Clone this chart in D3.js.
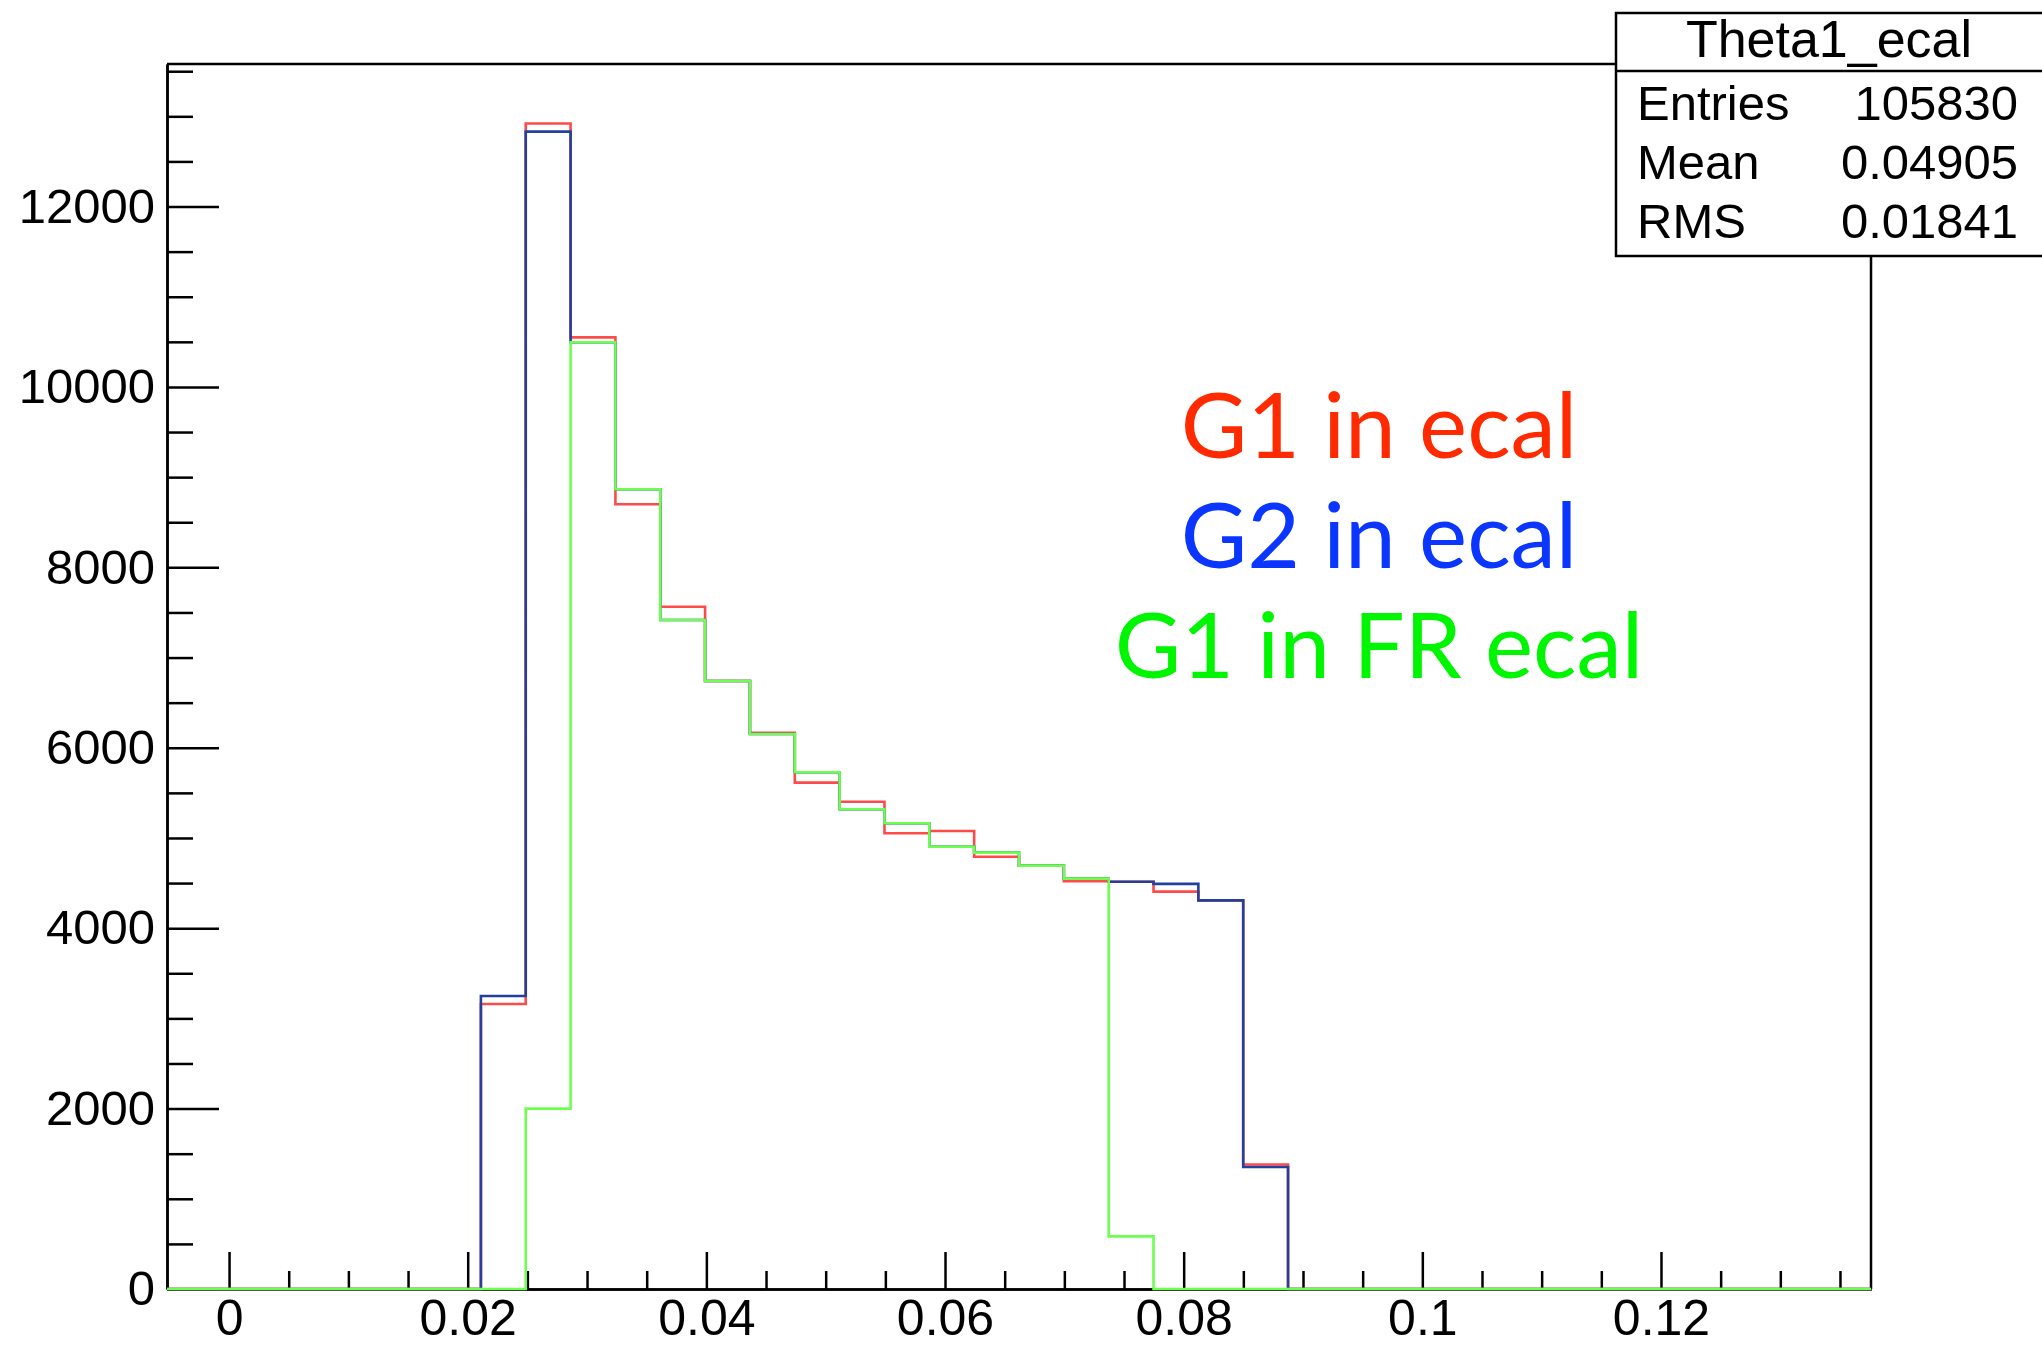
<!DOCTYPE html>
<html>
<head>
<meta charset="utf-8">
<script src="https://cdn.jsdelivr.net/npm/d3@7"></script>
<style>
  html, body { margin: 0; padding: 0; background: #fff; }
  svg { display: block; }
</style>
</head>
<body>
<script>
// histogram binning (x axis)
const xMin = -0.0052
const xMax = 0.1376
const nBins = 38

// bin contents, first non-empty bin index for each
const g1Start = 7
const g1Ecal = [3160, 12920, 10550, 8700, 7564, 6740, 6167, 5613, 5402, 5052, 5077, 4792, 4693, 4520, 4514, 4405, 4308, 1380]
const g2Start = 7
const g2Ecal = [3248, 12830, 10495, 8865, 7417, 6740, 6153, 5728, 5318, 5163, 4903, 4837, 4693, 4549, 4514, 4491, 4308, 1353]
const g1FrStart = 8
const g1FrEcal = [2000, 10495, 8865, 7417, 6740, 6153, 5728, 5318, 5163, 4903, 4837, 4693, 4549, 583]

const xMajor = [0, 0.02, 0.04, 0.06, 0.08, 0.1, 0.12]
const xMinor = [0.005, 0.01, 0.015, 0.025, 0.03, 0.035, 0.045, 0.05, 0.055, 0.065, 0.07, 0.075, 0.085, 0.09, 0.095, 0.105, 0.11, 0.115, 0.125, 0.13, 0.135]
const yMajor = [0, 2000, 4000, 6000, 8000, 10000, 12000]
const yMinor = [500, 1000, 1500, 2500, 3000, 3500, 4500, 5000, 5500, 6500, 7000, 7500, 8500, 9000, 9500, 10500, 11000, 11500, 12500, 13000, 13500]
const yMax = 13580

const statsTitle = 'Theta1_ecal'
const statsRows = [['Entries', '105830'], ['Mean', '0.04905'], ['RMS', '0.01841']]

const legend = [
  { label: 'G1 in ecal', color: '#ff2a00' },
  { label: 'G2 in ecal', color: '#0a36ff' },
  { label: 'G1 in FR ecal', color: '#00f500' }
]

let width = 2042
let height = 1347
let margin = { top: 64, right: 171, bottom: 58, left: 167 }
const axisFont = '"Liberation Sans", Arial, Helvetica, sans-serif'

const svg = d3.select('body')
  .append('svg')
  .attr('width', width)
  .attr('height', height)

const x = d3.scaleLinear()
  .domain([xMin, xMax])
  .range([margin.left, width - margin.right])

const y = d3.scaleLinear()
  .domain([0, yMax])
  .range([height - margin.bottom, margin.top])

const binW = (xMax - xMin) / nBins

// full contents array over all bins
function fullBins(start, vals) {
  const out = new Array(nBins).fill(0)
  vals.forEach((v, i) => { out[start + i] = v })
  return out
}

function stepPoints(bins) {
  const pts = []
  bins.forEach((v, i) => {
    pts.push([xMin + i * binW, v])
    pts.push([xMin + (i + 1) * binW, v])
  })
  return pts
}

const line = d3.line()
  .x(d => x(d[0]))
  .y(d => y(d[1]))

// x axis
svg.append('g')
  .attr('transform', `translate(0,${y(0)})`)
  .call(d3.axisBottom(x).tickValues(xMinor).tickSize(-18).tickSizeOuter(0).tickFormat(''))
const xAxisMajor = svg.append('g')
  .attr('transform', `translate(0,${y(0)})`)
  .call(d3.axisBottom(x).tickValues(xMajor).tickSize(-37).tickSizeOuter(0).tickPadding(10).tickFormat(d3.format('~g')))

// y axis
svg.append('g')
  .attr('transform', `translate(${x(xMin)},0)`)
  .call(d3.axisLeft(y).tickValues(yMinor).tickSize(-26).tickSizeOuter(0).tickFormat(''))
const yAxisMajor = svg.append('g')
  .attr('transform', `translate(${x(xMin)},0)`)
  .call(d3.axisLeft(y).tickValues(yMajor).tickSize(-52).tickSizeOuter(0).tickPadding(12).tickFormat(d3.format('d')))

svg.selectAll('.tick line, .domain')
  .attr('stroke', '#000')
  .attr('stroke-width', 2.5)
svg.selectAll('.tick text')
  .attr('fill', '#000')
  .style('font-family', axisFont)
xAxisMajor.selectAll('.tick text').style('font-size', '50px')
yAxisMajor.selectAll('.tick text').style('font-size', '49px')

// frame top and right
svg.append('line')
  .attr('x1', x(xMin)).attr('x2', x(xMax))
  .attr('y1', y(yMax)).attr('y2', y(yMax))
  .attr('stroke', '#000').attr('stroke-width', 2.5)
svg.append('line')
  .attr('x1', x(xMax)).attr('x2', x(xMax))
  .attr('y1', y(yMax)).attr('y2', y(0))
  .attr('stroke', '#000').attr('stroke-width', 2.5)

// histograms, drawn in ROOT order: red, blue, green
const hists = [
  { bins: fullBins(g1Start, g1Ecal), color: '#ff4a4a' },
  { bins: fullBins(g2Start, g2Ecal), color: '#22409c' },
  { bins: fullBins(g1FrStart, g1FrEcal), color: '#6cff50' }
]

svg.selectAll('path.hist')
  .data(hists)
  .join('path')
  .attr('class', 'hist')
  .attr('d', d => line(stepPoints(d.bins)))
  .attr('fill', 'none')
  .attr('stroke', d => d.color)
  .attr('stroke-width', 2.6)

// legend text
svg.selectAll('text.legend')
  .data(legend)
  .join('text')
  .attr('class', 'legend')
  .attr('x', 1379)
  .attr('y', (d, i) => 458 + i * 110)
  .attr('text-anchor', 'middle')
  .style('font-family', 'Lato, "Open Sans", sans-serif')
  .style('font-size', '91px')
  .attr('fill', d => d.color)
  .text(d => d.label)

// stats box
const stats = svg.append('g')
stats.append('rect')
  .attr('x', 1616).attr('y', 13)
  .attr('width', 440).attr('height', 243)
  .attr('fill', '#fff')
  .attr('stroke', '#000')
  .attr('stroke-width', 2.5)
stats.append('line')
  .attr('x1', 1616).attr('x2', 2050)
  .attr('y1', 71).attr('y2', 71)
  .attr('stroke', '#000').attr('stroke-width', 2.5)
stats.append('text')
  .attr('x', 1829).attr('y', 57)
  .attr('text-anchor', 'middle')
  .style('font-family', axisFont)
  .style('font-size', '52px')
  .text(statsTitle)
statsRows.forEach((r, i) => {
  stats.append('text')
    .attr('x', 1637).attr('y', 120 + i * 59)
    .style('font-family', axisFont)
    .style('font-size', '49px')
    .text(r[0])
  stats.append('text')
    .attr('x', 2018).attr('y', 120 + i * 59)
    .attr('text-anchor', 'end')
    .style('font-family', axisFont)
    .style('font-size', '49px')
    .text(r[1])
})
</script>
</body>
</html>
